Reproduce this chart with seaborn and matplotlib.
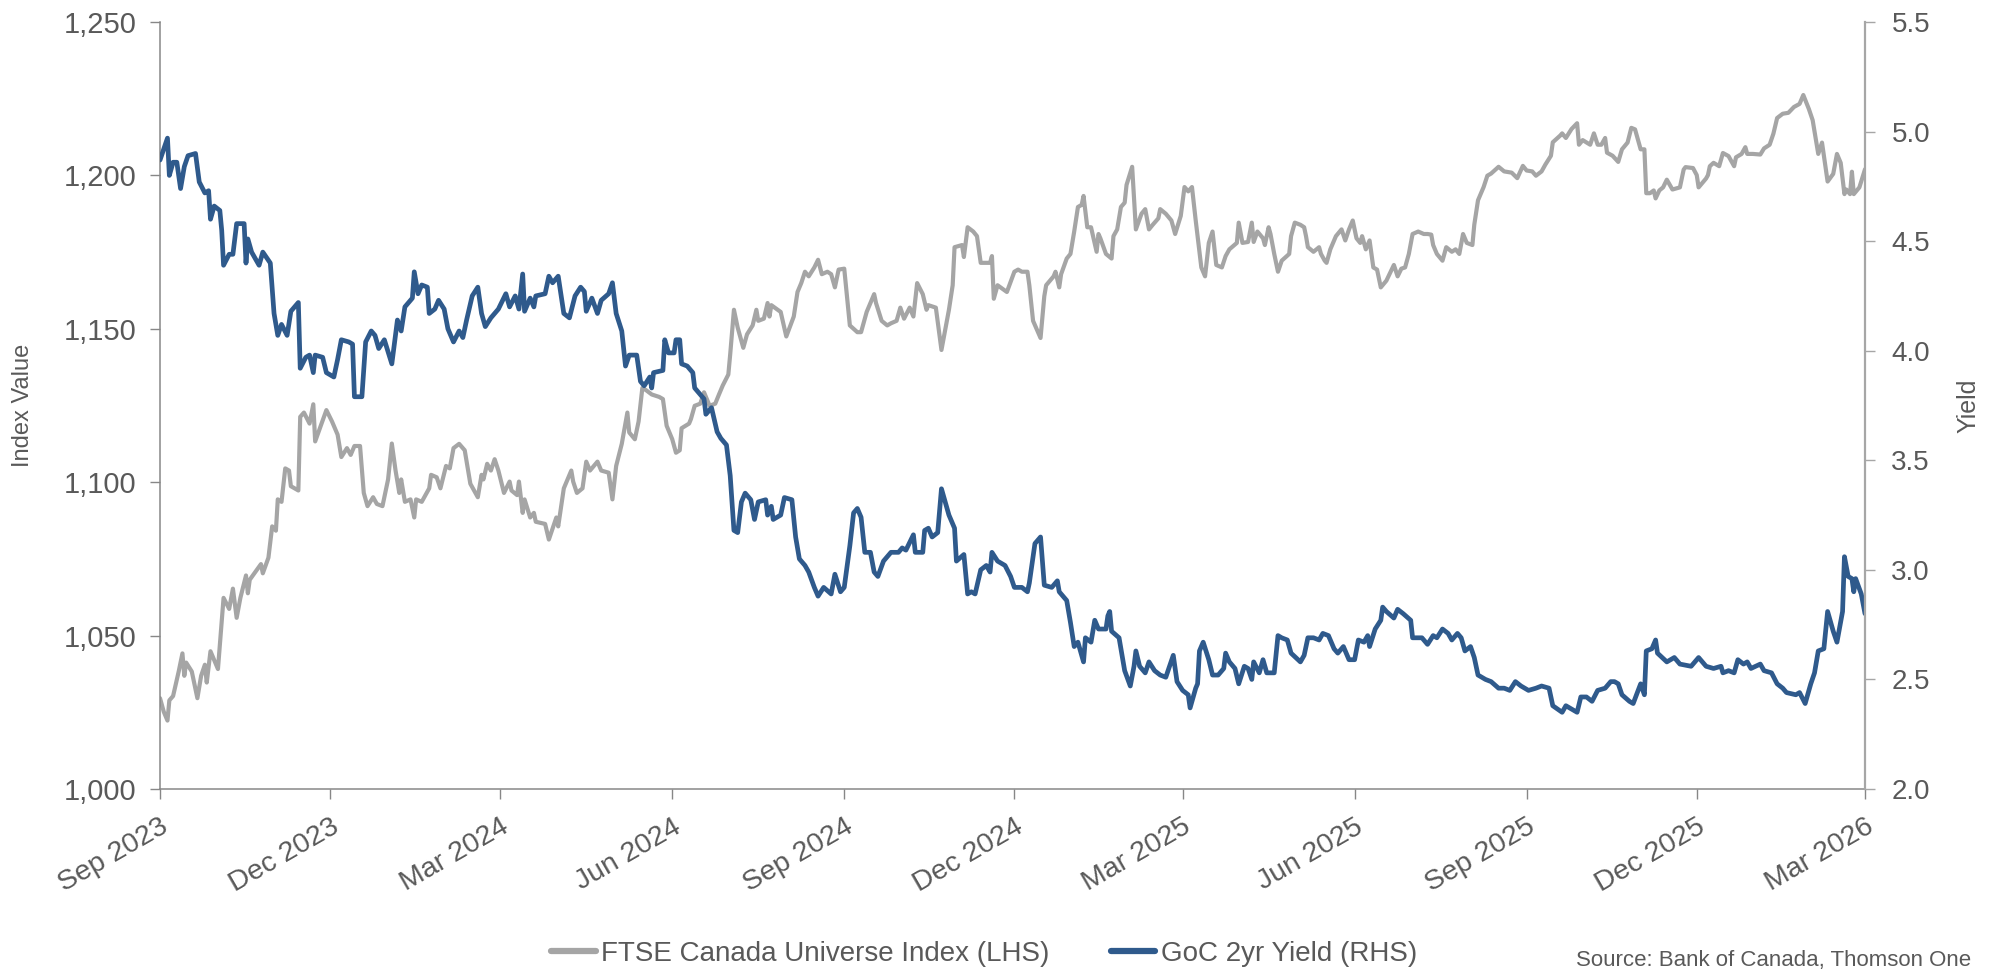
import pandas as pd
import seaborn as sns
import matplotlib.pyplot as plt
import matplotlib.dates as mdates
from matplotlib import font_manager
from matplotlib.ticker import FuncFormatter
from matplotlib.lines import Line2D

start = pd.Timestamp('2023-09-01')

# days since 1 Sep 2023 and index level
ftse_day = [0, 2, 4, 5, 7, 10, 12, 13, 14, 17, 20, 22, 24, 25, 27, 31, 34, 37, 39, 41, 43, 46, 47, 48,
            54, 55, 58, 60, 62, 63, 65, 67, 69, 70, 74, 75, 77, 80, 82, 83, 89, 92, 95, 97, 100, 102,
            104, 107, 109, 111, 114, 116, 119, 122, 124, 126, 128, 129, 131, 134, 136, 137, 140, 144,
            145, 148, 150, 153, 155, 157, 160, 163, 166, 170, 172, 173, 175, 177, 179, 181, 184, 187,
            188, 191, 192, 194, 195, 198, 200, 201, 206, 208, 212, 213, 216, 220, 221, 223, 226, 228,
            230, 234, 236, 240, 242, 244, 247, 250, 251, 254, 256, 258, 260, 263, 267, 269, 271, 274,
            276, 278, 279, 283, 284, 286, 289, 291, 294, 297, 299, 301, 304, 305, 307, 309, 312, 314,
            317, 319, 320, 323, 325, 326, 327, 332, 335, 339, 341, 343, 345, 347, 350, 352, 354, 357,
            359, 361, 363, 366, 369, 373, 375, 378, 382, 383, 386, 389, 391, 394, 396, 398, 401, 403,
            405, 408, 410, 411, 415, 418, 422, 424, 425, 429, 430, 432, 435, 437, 439, 444, 445, 446,
            448, 453, 457, 459, 461, 464, 465, 467, 471, 473, 474, 478, 479, 481, 482, 485, 487, 489,
            491, 493, 494, 496, 498, 501, 502, 503, 506, 509, 510, 512, 514, 516, 517, 520, 522, 525,
            527, 529, 531, 534, 535, 538, 541, 543, 546, 548, 550, 552, 554, 557, 559, 561, 563, 565,
            568, 570, 572, 576, 577, 579, 582, 584, 585, 587, 590, 591, 593, 594, 596, 598, 600, 604,
            605, 607, 610, 612, 613, 614, 617, 620, 621, 623, 624, 626, 629, 632, 634, 636, 638, 640,
            642, 643, 645, 647, 649, 651, 653, 656, 660, 662, 664, 666, 668, 670, 673, 676, 678, 680,
            681, 683, 686, 688, 691, 693, 695, 697, 699, 702, 703, 705, 708, 710, 712, 716, 719, 723,
            726, 729, 731, 734, 736, 739, 741, 744, 745, 749, 750, 752, 755, 758, 759, 761, 765, 767,
            769, 771, 773, 774, 777, 780, 782, 785, 787, 789, 792, 794, 795, 797, 799, 800, 802, 804,
            806, 809, 813, 815, 816, 820, 822, 823, 827, 828, 829, 831, 834, 836, 839, 842, 843, 846,
            848, 849, 852, 856, 858, 861, 863, 865, 868, 871, 874, 877, 879, 882, 884, 887, 889, 892,
            895, 897, 899, 901, 902, 904, 905, 906, 909, 912]
ftse_level = [1029.6, 1025.2, 1022.3, 1028.9, 1030.3, 1038.3, 1044.2, 1036.9, 1041.2, 1038.3, 1029.6,
              1036.9, 1040.5, 1034.7, 1044.9, 1039.1, 1062.3, 1058.7, 1065.3, 1055.8, 1062.3, 1069.6,
              1063.8, 1068.2, 1073.3, 1070.3, 1075.4, 1085.6, 1084.2, 1094.4, 1093.6, 1104.5, 1103.8,
              1098.7, 1097.3, 1121.3, 1122.7, 1119.1, 1125.4, 1113.3, 1123.5, 1119.8, 1115.5, 1108.2,
              1111.1, 1108.9, 1111.8, 1111.8, 1096.5, 1092.2, 1095.1, 1092.9, 1092.2, 1100.9, 1112.6,
              1103.8, 1096.5, 1100.9, 1093.6, 1094.4, 1088.5, 1094.4, 1093.6, 1098.0, 1102.4, 1101.6,
              1098.0, 1105.3, 1104.5, 1111.1, 1112.5, 1110.4, 1099.5, 1095.1, 1102.4, 1100.9, 1106.0,
              1103.8, 1107.5, 1103.8, 1096.5, 1100.2, 1097.3, 1095.8, 1100.2, 1090.0, 1094.4, 1088.5,
              1090.0, 1087.1, 1086.4, 1081.3, 1088.5, 1085.6, 1098.0, 1103.8, 1100.2, 1096.5, 1098.0,
              1106.7, 1103.8, 1106.7, 1103.8, 1103.1, 1094.4, 1105.3, 1112.5, 1122.7, 1116.2, 1114.0,
              1119.8, 1130.7, 1130.0, 1128.6, 1127.8, 1127.1, 1118.4, 1114.0, 1109.6, 1110.4, 1117.6,
              1119.1, 1120.6, 1124.9, 1125.6, 1129.3, 1124.9, 1125.6, 1128.6, 1131.5, 1135.1, 1141.7,
              1156.2, 1150.4, 1143.8, 1148.2, 1151.1, 1156.2, 1152.6, 1153.3, 1158.4, 1154.0, 1157.7,
              1155.5, 1147.5, 1154.0, 1162.0, 1164.9, 1168.6, 1167.1, 1170.0, 1172.5, 1167.8, 1168.6,
              1167.8, 1163.5, 1169.3, 1169.6, 1151.1, 1148.9, 1148.9, 1155.5, 1161.3, 1158.4, 1152.6,
              1151.1, 1151.8, 1152.6, 1156.9, 1153.3, 1156.9, 1154.0, 1164.9, 1161.3, 1156.2, 1157.7,
              1156.9, 1143.1, 1156.2, 1164.2, 1176.6, 1177.3, 1173.4, 1183.1, 1181.7, 1180.2, 1171.5,
              1171.5, 1173.7, 1159.8, 1164.2, 1162.0, 1168.6, 1169.3, 1168.6, 1168.6, 1164.2, 1152.6,
              1147.0, 1160.6, 1164.2, 1167.1, 1168.6, 1163.5, 1167.8, 1172.9, 1174.4, 1181.7, 1189.7,
              1190.4, 1193.3, 1183.1, 1183.1, 1175.1, 1180.9, 1179.5, 1174.4, 1172.9, 1180.2, 1182.4,
              1189.7, 1191.1, 1196.9, 1202.8, 1182.4, 1187.5, 1189.0, 1182.4, 1183.9, 1186.0, 1189.0,
              1187.5, 1185.3, 1180.9, 1186.8, 1196.2, 1194.8, 1196.2, 1185.3, 1170.0, 1167.1, 1178.0,
              1181.7, 1170.8, 1170.0, 1173.7, 1175.9, 1178.0, 1184.6, 1178.0, 1178.3, 1184.6, 1178.3,
              1181.7, 1179.5, 1177.3, 1183.1, 1180.9, 1174.4, 1168.6, 1172.2, 1174.4, 1180.2, 1184.6,
              1183.9, 1183.1, 1180.2, 1176.6, 1175.1, 1176.6, 1174.4, 1172.2, 1171.5, 1175.9, 1180.2,
              1182.4, 1178.8, 1182.4, 1185.3, 1179.5, 1178.0, 1180.2, 1175.9, 1178.8, 1170.0, 1169.3,
              1163.5, 1165.7, 1170.8, 1167.1, 1169.6, 1170.0, 1174.4, 1180.9, 1181.7, 1180.9, 1180.9,
              1180.7, 1177.3, 1174.4, 1172.2, 1176.6, 1175.1, 1175.9, 1174.4, 1180.9, 1178.0, 1177.3,
              1183.9, 1191.9, 1196.2, 1199.9, 1200.6, 1202.8, 1201.3, 1200.9, 1199.1, 1203.1, 1201.6,
              1201.3, 1199.9, 1201.3, 1203.5, 1206.4, 1210.8, 1213.0, 1213.7, 1212.2, 1215.1, 1217.0,
              1210.0, 1211.5, 1210.0, 1213.7, 1210.0, 1210.0, 1212.2, 1207.4, 1206.4, 1204.4, 1208.5,
              1210.7, 1215.5, 1215.0, 1208.5, 1208.5, 1194.2, 1194.2, 1195.1, 1192.5, 1195.1, 1196.1,
              1198.6, 1195.4, 1196.1, 1201.9, 1202.7, 1202.4, 1200.1, 1196.1, 1199.0, 1200.1, 1203.0,
              1204.1, 1203.0, 1207.3, 1206.3, 1203.0, 1205.9, 1207.0, 1209.2, 1207.0, 1207.0, 1206.8,
              1208.8, 1210.0, 1213.6, 1218.7, 1220.1, 1220.4, 1222.3, 1223.3, 1226.2, 1221.6, 1218.0,
              1207.0, 1210.7, 1198.0, 1200.5, 1207.0, 1204.1, 1193.9, 1195.4, 1193.9, 1201.2, 1193.9,
              1196.1, 1202.0]

# days since 1 Sep 2023 and 2-year GoC yield (%)
yld_day = [0, 4, 5, 7, 9, 11, 13, 15, 19, 21, 24, 26, 27, 29, 32, 33, 34, 37, 39, 41, 45, 46, 47, 49,
           53, 55, 59, 61, 63, 65, 68, 70, 74, 75, 78, 80, 82, 83, 87, 89, 93, 95, 97, 101, 103, 104,
           108, 110, 113, 115, 117, 120, 124, 127, 129, 131, 135, 136, 138, 140, 143, 144, 147, 149,
           152, 154, 157, 160, 162, 164, 167, 170, 172, 174, 177, 181, 185, 187, 190, 192, 194, 195,
           198, 200, 201, 206, 208, 210, 213, 216, 219, 222, 225, 227, 228, 231, 234, 236, 240, 242,
           244, 247, 249, 251, 255, 257, 259, 262, 263, 264, 269, 270, 272, 275, 276, 278, 279, 282,
           285, 286, 289, 291, 292, 295, 298, 300, 303, 305, 307, 309, 311, 313, 316, 318, 320, 324,
           325, 327, 328, 332, 334, 338, 340, 342, 345, 347, 350, 352, 355, 359, 361, 364, 366, 369,
           371, 373, 375, 377, 380, 382, 384, 387, 391, 395, 397, 399, 403, 404, 408, 409, 411, 413,
           416, 418, 422, 425, 426, 430, 432, 434, 436, 439, 442, 444, 445, 448, 452, 455, 457, 461,
           464, 465, 468, 471, 473, 477, 480, 481, 485, 487, 489, 491, 492, 494, 495, 498, 500, 502,
           506, 507, 508, 509, 513, 514, 516, 519, 521, 522, 524, 527, 529, 532, 535, 538, 540, 542,
           544, 547, 550, 551, 554, 555, 556, 558, 561, 563, 566, 569, 570, 572, 575, 577, 580, 582,
           584, 585, 588, 590, 592, 596, 598, 600, 603, 605, 610, 612, 614, 617, 620, 622, 625, 628,
           630, 633, 636, 639, 641, 644, 646, 647, 650, 653, 654, 656, 660, 662, 665, 669, 670, 675,
           678, 681, 683, 686, 689, 691, 694, 696, 698, 701, 703, 705, 709, 712, 716, 719, 722, 725,
           728, 732, 736, 739, 743, 745, 750, 752, 758, 760, 763, 766, 769, 773, 776, 778, 780, 782,
           786, 788, 792, 794, 795, 798, 800, 801, 806, 810, 813, 819, 823, 827, 831, 835, 836, 839,
           842, 844, 847, 849, 851, 856, 858, 862, 865, 868, 870, 875, 877, 880, 883, 885, 887, 890,
           892, 895, 897, 900, 901, 903, 905, 906, 907, 910, 912]
yld_level = [4.87, 4.97, 4.80, 4.86, 4.86, 4.74, 4.84, 4.89, 4.90, 4.77, 4.72, 4.73, 4.60, 4.66, 4.64,
             4.55, 4.39, 4.44, 4.44, 4.58, 4.58, 4.40, 4.51, 4.45, 4.39, 4.45, 4.40, 4.17, 4.07, 4.12,
             4.07, 4.18, 4.22, 3.92, 3.97, 3.98, 3.90, 3.98, 3.97, 3.90, 3.88, 3.96, 4.05, 4.04, 4.03,
             3.79, 3.79, 4.04, 4.09, 4.07, 4.01, 4.05, 3.94, 4.14, 4.09, 4.20, 4.24, 4.36, 4.26, 4.30,
             4.29, 4.17, 4.19, 4.23, 4.19, 4.10, 4.04, 4.09, 4.06, 4.14, 4.25, 4.29, 4.17, 4.11, 4.15,
             4.19, 4.26, 4.20, 4.25, 4.19, 4.35, 4.18, 4.24, 4.20, 4.25, 4.26, 4.34, 4.31, 4.34, 4.17,
             4.15, 4.25, 4.29, 4.27, 4.18, 4.24, 4.17, 4.23, 4.26, 4.31, 4.17, 4.09, 3.93, 3.98, 3.98,
             3.86, 3.84, 3.88, 3.83, 3.90, 3.91, 4.05, 3.99, 3.99, 4.05, 4.05, 3.94, 3.93, 3.90, 3.83,
             3.80, 3.78, 3.71, 3.74, 3.63, 3.60, 3.57, 3.43, 3.18, 3.17, 3.31, 3.35, 3.32, 3.23, 3.31,
             3.32, 3.25, 3.29, 3.23, 3.25, 3.33, 3.32, 3.15, 3.05, 3.02, 2.99, 2.92, 2.88, 2.92, 2.89,
             2.98, 2.90, 2.92, 3.11, 3.26, 3.28, 3.24, 3.08, 3.08, 2.99, 2.97, 3.04, 3.08, 3.08, 3.10,
             3.09, 3.16, 3.08, 3.08, 3.18, 3.19, 3.15, 3.17, 3.37, 3.25, 3.19, 3.04, 3.07, 2.89, 2.90,
             2.89, 3.00, 3.02, 2.99, 3.08, 3.04, 3.02, 2.97, 2.92, 2.92, 2.90, 2.94, 3.12, 3.15, 2.93,
             2.92, 2.95, 2.90, 2.86, 2.76, 2.65, 2.67, 2.64, 2.58, 2.69, 2.67, 2.77, 2.73, 2.73, 2.79,
             2.81, 2.72, 2.69, 2.64, 2.54, 2.47, 2.56, 2.63, 2.56, 2.53, 2.58, 2.54, 2.52, 2.51, 2.56,
             2.61, 2.49, 2.45, 2.43, 2.37, 2.46, 2.48, 2.63, 2.67, 2.59, 2.52, 2.52, 2.55, 2.62, 2.58,
             2.55, 2.48, 2.56, 2.55, 2.50, 2.58, 2.53, 2.59, 2.53, 2.53, 2.70, 2.69, 2.68, 2.62, 2.58,
             2.61, 2.69, 2.69, 2.68, 2.71, 2.70, 2.64, 2.62, 2.65, 2.59, 2.59, 2.68, 2.67, 2.70, 2.65,
             2.73, 2.77, 2.83, 2.81, 2.78, 2.82, 2.80, 2.77, 2.69, 2.69, 2.66, 2.70, 2.69, 2.73, 2.71,
             2.68, 2.71, 2.69, 2.63, 2.65, 2.60, 2.52, 2.50, 2.49, 2.46, 2.46, 2.45, 2.49, 2.47, 2.45,
             2.46, 2.47, 2.46, 2.38, 2.35, 2.38, 2.35, 2.42, 2.42, 2.40, 2.45, 2.46, 2.49, 2.49, 2.48,
             2.43, 2.40, 2.39, 2.48, 2.43, 2.63, 2.64, 2.68, 2.62, 2.58, 2.60, 2.57, 2.56, 2.60, 2.56,
             2.55, 2.56, 2.53, 2.54, 2.53, 2.59, 2.57, 2.58, 2.55, 2.57, 2.54, 2.53, 2.48, 2.46, 2.44,
             2.43, 2.44, 2.39, 2.48, 2.53, 2.63, 2.64, 2.81, 2.72, 2.67, 2.81, 3.06, 2.97, 2.96, 2.90,
             2.96, 2.89, 2.80]

left_ticks = [1000, 1050, 1100, 1150, 1200, 1250]
right_ticks = [2.0, 2.5, 3.0, 3.5, 4.0, 4.5, 5.0, 5.5]

ftse = pd.DataFrame({'date': start + pd.to_timedelta(ftse_day, unit='D'), 'value': ftse_level})
yld = pd.DataFrame({'date': start + pd.to_timedelta(yld_day, unit='D'), 'value': yld_level})

GREY = '#A5A5A5'
BLUE = '#2F5A8C'
TXT = '#595959'
AX = '#878787'

sns.set_style('white')
installed = {f.name for f in font_manager.fontManager.ttflist}
narrow = 'Liberation Sans Narrow' if 'Liberation Sans Narrow' in installed else 'Liberation Sans'
plt.rcParams['font.family'] = ['Liberation Sans', 'DejaVu Sans']

fig = plt.figure(figsize=(19.96, 9.74), dpi=100)
ax = fig.add_axes([160 / 1996, 1 - 789 / 974, 1705 / 1996, 767 / 974])
ax2 = ax.twinx()

sns.lineplot(data=ftse, x='date', y='value', ax=ax, color=GREY, linewidth=3.0)
sns.lineplot(data=yld, x='date', y='value', ax=ax2, color=BLUE, linewidth=3.4)

ax.set_xlim(start, pd.Timestamp('2026-03-01'))
ax.set_ylim(1000, 1250)
ax2.set_ylim(2.0, 5.5)
ax.set_yticks(left_ticks)
ax2.set_yticks(right_ticks)
ax.yaxis.set_major_formatter(FuncFormatter(lambda v, p: f'{v:,.0f}'))
ax2.yaxis.set_major_formatter(FuncFormatter(lambda v, p: f'{v:.1f}'))
ax.xaxis.set_major_locator(mdates.MonthLocator(bymonth=[3, 6, 9, 12], bymonthday=1))
ax.xaxis.set_major_formatter(mdates.DateFormatter('%b %Y'))

for a in (ax, ax2):
    a.spines['top'].set_visible(False)
    a.set_xlabel('')
ax.spines['right'].set_visible(False)
ax2.spines['left'].set_visible(False)
ax2.spines['bottom'].set_visible(False)
ax.spines['left'].set_color(AX)
ax.spines['bottom'].set_color(AX)
ax2.spines['right'].set_color('#A6A6A6')
for s in ('left', 'bottom'):
    ax.spines[s].set_linewidth(1.1)
ax2.spines['right'].set_linewidth(1.6)

ax.tick_params(axis='y', direction='out', length=7, width=1.0, color=AX, pad=10,
               labelsize=21, labelcolor=TXT, left=True)
ax.tick_params(axis='x', direction='out', length=7, width=1.0, color=AX, pad=11,
               labelsize=20.5, labelcolor=TXT, bottom=True)
ax2.tick_params(axis='y', direction='out', length=7, width=1.0, color='#A6A6A6', pad=12,
                labelsize=20, labelcolor=TXT, right=True)
for lab in ax2.get_yticklabels():
    lab.set_family(narrow)
plt.setp(ax.get_xticklabels(), rotation=30, ha='right', va='top', rotation_mode='anchor')

ax.set_ylabel('Index Value', fontsize=17, color=TXT)
ax.yaxis.set_label_coords((34 - 160) / 1705, 0.5)
ax2.set_ylabel('Yield', fontsize=18, color=TXT, rotation=90)
ax2.yaxis.set_label_coords((1956 - 160) / 1705, 0.5)

for a in (ax, ax2):
    if a.get_legend() is not None:
        a.get_legend().remove()

handles = [Line2D([0], [0], color=GREY, lw=4.5), Line2D([0], [0], color=BLUE, lw=4.5)]
labels = ['FTSE Canada Universe Index (LHS)', 'GoC 2yr Yield (RHS)']
fig.legend(handles, labels, loc='center', bbox_to_anchor=(984 / 1996, 1 - 954 / 974), ncol=2,
           frameon=False, handlelength=1.6, handletextpad=0.2, columnspacing=2.2,
           prop={'family': narrow, 'size': 20}, labelcolor=TXT)

fig.text(1576 / 1996, 1 - 950 / 974, 'Source: Bank of Canada, Thomson One', ha='left', va='top',
         fontsize=16, color=TXT, family=narrow)

fig.savefig('out.png', dpi=100)
